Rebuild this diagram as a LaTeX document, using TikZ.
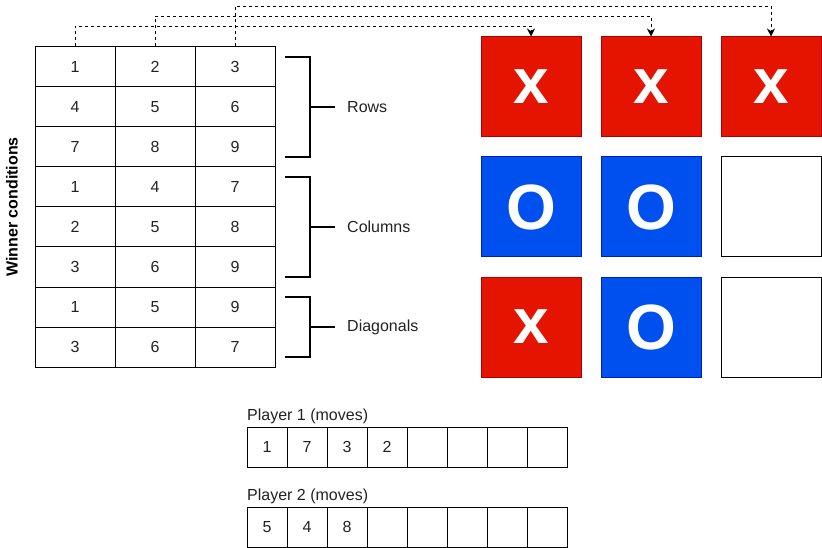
\documentclass[tikz,border=0pt]{standalone}
\usepackage{fontspec}
\setmainfont{Liberation Sans}
\usetikzlibrary{arrows.meta}
\definecolor{xred}{HTML}{E51400}
\definecolor{xredline}{HTML}{B20000}
\definecolor{oblue}{HTML}{0050EF}
\definecolor{oblueline}{HTML}{001DBC}
\definecolor{txt}{HTML}{222222}
\tikzset{
  cell/.style={draw=black, line width=1pt, minimum width=80pt, minimum height=40pt, inner sep=0pt, text=txt, font=\fontsize{16}{18}\selectfont},
  mcell/.style={draw=black, line width=1pt, minimum width=40pt, minimum height=40pt, inner sep=0pt, text=txt, font=\fontsize{16}{18}\selectfont},
  sqbase/.style={line width=1pt, minimum width=100pt, minimum height=100pt, inner sep=0pt, text=white, font=\fontsize{64}{64}\selectfont\bfseries},
  xsq/.style={sqbase, fill=xred, draw=xredline},
  osq/.style={sqbase, fill=oblue, draw=oblueline},
  esq/.style={sqbase, fill=white, draw=black},
  lbl/.style={font=\fontsize{16}{18}\selectfont, text=txt, inner sep=0pt},
  brk/.style={line width=2pt},
  link/.style={line width=1pt, dash pattern=on 3pt off 3pt, -{Stealth[length=8pt,width=8pt]}},
}
\begin{document}
\begin{tikzpicture}[x=1pt,y=-1pt]
\useasboundingbox (0,0) rectangle (822,548);
% winner table
\foreach \r/\a/\b/\c in {1/1/2/3,2/4/5/6,3/7/8/9,4/1/4/7,5/2/5/8,6/3/6/9,7/1/5/9,8/3/6/7}{
  \node[cell] (t\r-1) at (75,{27+40*\r}) {\a};
  \node[cell] (t\r-2) at (155,{27+40*\r}) {\b};
  \node[cell] (t\r-3) at (235,{27+40*\r}) {\c};
}
\node[lbl, rotate=90, font=\fontsize{16}{18}\selectfont\bfseries, text=black] (wc) at (12,207) {Winner conditions};
% brackets
\draw[brk] (285,57) -- (310,57) -- (310,157) -- (285,157);
\draw[brk] (310,107) -- (335,107);
\draw[brk] (285,177) -- (310,177) -- (310,277) -- (285,277);
\draw[brk] (310,227) -- (335,227);
\draw[brk] (285,297) -- (310,297) -- (310,357) -- (285,357);
\draw[brk] (310,327) -- (335,327);
\node[lbl, anchor=west] (rows) at (347,107) {Rows};
\node[lbl, anchor=west] (cols) at (347,227) {Columns};
\node[lbl, anchor=west] (diag) at (347,327) {Diagonals};
% board
\node[xsq] (s1) at (531,87) {x};
\node[xsq] (s2) at (651,87) {x};
\node[xsq] (s3) at (771,87) {x};
\node[osq] (s4) at (531,207) {O};
\node[osq] (s5) at (651,207) {O};
\node[esq] (s6) at (771,207) {};
\node[xsq] (s7) at (531,327) {x};
\node[osq] (s8) at (651,327) {O};
\node[esq] (s9) at (771,327) {};
% links
\draw[link] (t1-1.north) -- ++(0,-20) -| (s1.north);
\draw[link] (t1-2.north) -- ++(0,-30) -| (s2.north);
\draw[link] (t1-3.north) -- ++(0,-40) -| (s3.north);
% players
\node[lbl, anchor=south west] (p1) at (247,424) {Player 1 (moves)};
\node[lbl, anchor=south west] (p2) at (247,504) {Player 2 (moves)};
\foreach \i/\v in {1/1,2/7,3/3,4/2,5/,6/,7/,8/}{
  \node[mcell] (m1-\i) at ({227+40*\i},447) {\v};
}
\foreach \i/\v in {1/5,2/4,3/8,4/,5/,6/,7/,8/}{
  \node[mcell] (m2-\i) at ({227+40*\i},527) {\v};
}
\end{tikzpicture}
\end{document}
